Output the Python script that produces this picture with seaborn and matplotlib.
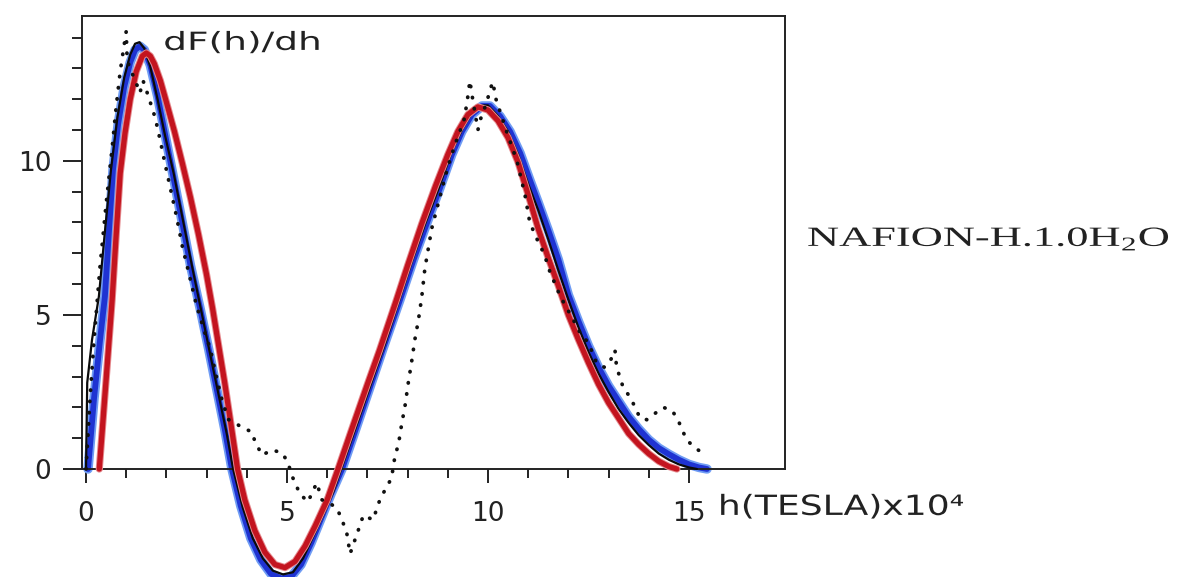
import matplotlib
matplotlib.use("Agg")
import matplotlib.pyplot as plt
import seaborn as sns
from matplotlib.patheffects import AbstractPathEffect
from matplotlib.transforms import Affine2D

# ---- data: field h (x10^4 T) and dF(h)/dh ----------------------------------
# fitted distribution (red)
h_red = [0.33, 0.5, 0.65, 0.75, 0.85, 0.97, 1.1, 1.25, 1.4, 1.5, 1.6, 1.7, 1.85,
         2.0, 2.2, 2.4, 2.6, 2.8, 3.0, 3.15, 3.3, 3.45, 3.6, 3.77, 3.95,
         4.2, 4.45, 4.7, 4.95, 5.2, 5.45, 5.7, 6.0, 6.27, 6.6, 7.0, 7.3, 7.7,
         8.0, 8.35, 8.7, 9.0, 9.25, 9.5, 9.75, 10.0, 10.25, 10.5, 10.75, 11.0,
         11.25, 11.5, 11.75, 12.0, 12.25, 12.5, 12.75, 13.0, 13.25, 13.5, 13.75,
         14.0, 14.25, 14.5, 14.7]
f_red = [0.0, 2.9, 5.5, 7.6, 9.6, 10.9, 12.0, 12.9, 13.4, 13.5, 13.4, 13.15, 12.6,
         11.9, 10.95, 9.9, 8.8, 7.6, 6.3, 5.2, 4.0, 2.8, 1.5, 0.0, -1.0,
         -2.0, -2.7, -3.1, -3.2, -3.0, -2.5, -1.85, -1.0, 0.0, 1.25, 2.75, 3.85, 5.4,
         6.6, 7.95, 9.2, 10.2, 10.95, 11.5, 11.75, 11.65, 11.3, 10.75, 9.95, 8.9,
         7.8, 6.85, 5.95, 5.0, 4.2, 3.45, 2.75, 2.15, 1.65, 1.15, 0.8,
         0.5, 0.25, 0.08, 0.0]

# fitted distribution (blue)
h_blue = [0.05, 0.2, 0.35, 0.47, 0.57, 0.67, 0.8, 0.95, 1.1, 1.22, 1.34, 1.45, 1.6,
          1.78, 1.96, 2.14, 2.35, 2.6, 2.84, 3.05, 3.25, 3.45, 3.63, 3.85, 4.1,
          4.35, 4.6, 4.85, 5.1, 5.35, 5.6, 5.85, 6.1, 6.37, 6.7, 7.05, 7.4, 7.8,
          8.15, 8.5, 8.8, 9.1, 9.35, 9.6, 9.85, 10.05, 10.3, 10.55, 10.8, 11.05,
          11.25, 11.5, 11.75, 12.0, 12.25, 12.5, 12.75, 13.0, 13.25, 13.5, 13.75,
          14.0, 14.25, 14.5, 14.75, 15.0, 15.25, 15.45]
f_blue = [0.0, 2.3, 4.2, 5.6, 7.7, 9.7, 11.2, 12.4, 13.2, 13.6, 13.72, 13.6, 13.1,
          12.1, 10.9, 9.7, 8.3, 6.6, 5.2, 3.9, 2.6, 1.3, 0.0, -1.2, -2.25,
          -2.95, -3.4, -3.55, -3.5, -3.1, -2.4, -1.6, -0.8, 0.0, 1.25, 2.6, 3.95, 5.45,
          6.8, 8.05, 9.1, 10.2, 10.95, 11.5, 11.78, 11.78, 11.45, 10.95, 10.25, 9.35,
          8.65, 7.75, 6.8, 5.65, 4.8, 4.0, 3.3, 2.7, 2.2, 1.7, 1.3,
          0.95, 0.68, 0.48, 0.3, 0.15, 0.05, 0.0]

# model curve (black, solid)
h_fit = [0.0, 0.03, 0.15, 0.32, 0.47, 0.62, 0.78, 0.95, 1.1, 1.22, 1.33, 1.45, 1.6,
         1.78, 1.97, 2.18, 2.4, 2.65, 2.88, 3.1, 3.3, 3.5, 3.66, 3.9, 4.15, 4.4,
         4.65, 4.9, 5.15, 5.4, 5.65, 5.9, 6.15, 6.35, 6.7, 7.1, 7.45, 7.8, 8.1,
         8.45, 8.8, 9.1, 9.35, 9.6, 9.85, 10.0, 10.25, 10.5, 10.75, 11.0, 11.25,
         11.5, 11.75, 12.0, 12.25, 12.5, 12.75, 13.0, 13.25, 13.5, 13.75, 14.0,
         14.25, 14.5, 14.75, 15.0, 15.2]
f_fit = [0.0, 2.8, 4.2, 5.6, 7.7, 9.7, 11.4, 12.7, 13.45, 13.8, 13.85, 13.65, 13.05,
         12.0, 10.8, 9.6, 8.15, 6.5, 5.05, 3.65, 2.4, 1.15, 0.0, -1.25, -2.25, -2.9,
         -3.3, -3.42, -3.35, -2.9, -2.2, -1.5, -0.75, 0.0, 1.3, 2.8, 4.1, 5.5, 6.7,
         8.0, 9.2, 10.3, 11.0, 11.55, 11.8, 11.8, 11.45, 10.95, 10.2, 9.25, 8.4,
         7.45, 6.45, 5.5, 4.6, 3.8, 3.1, 2.5, 1.95, 1.5, 1.1, 0.78,
         0.5, 0.3, 0.15, 0.05, 0.0]

# measured derivative (black, dotted)
h_exp = [0.0, 0.1, 0.2, 0.35, 0.5, 0.64, 0.75, 0.85, 0.93, 1.0, 1.02, 1.08, 1.2,
         1.34, 1.42, 1.55, 1.72, 1.84, 1.95, 2.1, 2.25, 2.4, 2.55, 2.75, 2.95, 3.1,
         3.26, 3.4, 3.55, 3.7, 3.88, 4.13, 4.2, 4.38, 4.63, 4.88, 5.03, 5.1, 5.2,
         5.32, 5.52, 5.74, 5.87, 6.05, 6.24, 6.37, 6.49, 6.57, 6.77, 6.9, 7.14,
         7.31, 7.45, 7.6, 7.69, 7.77, 7.85, 7.94, 8.02, 8.1, 8.18, 8.27, 8.35,
         8.43, 8.6, 8.8, 9.0, 9.2, 9.4, 9.48, 9.55, 9.62, 9.75, 9.8, 9.97, 10.05,
         10.12, 10.2, 10.45, 10.72, 10.92, 11.04, 11.25, 11.37, 11.47, 11.54, 11.8,
         12.1, 12.3, 12.5, 12.7, 12.9, 13.04, 13.16, 13.2, 13.28, 13.36, 13.53,
         13.66, 13.78, 13.95, 14.1, 14.36, 14.58, 14.73, 14.83, 14.95, 15.15, 15.35]
f_exp = [0.0, 2.3, 4.2, 6.6, 8.6, 10.3, 11.75, 12.9, 13.6, 14.2, 13.4, 13.0, 12.7,
         12.2, 12.6, 12.1, 11.4, 10.7, 10.0, 9.1, 8.2, 7.2, 6.4, 5.3, 4.45, 3.85,
         2.9, 2.15, 1.6, 1.5, 1.35, 1.2, 0.9, 0.45, 0.62, 0.52, 0.2, -0.15, -0.45,
         -0.8, -1.07, -0.45, -1.0, -1.1, -1.27, -1.65, -2.1, -2.75, -2.0, -1.5, -1.65,
         -1.0, -0.65, -0.3, 0.45, 0.78, 1.43, 2.08, 2.82, 3.47, 4.19, 4.84, 5.55,
         6.5, 7.8, 8.8, 9.8, 10.6, 11.3, 11.9, 12.6, 12.0, 11.0, 11.3, 11.9, 12.3,
         12.56, 12.0, 11.0, 10.0, 8.9, 8.0, 7.37, 7.05, 6.7, 6.4, 5.6,
         4.9, 4.4, 4.09, 3.44, 3.3, 3.5, 3.86, 3.3, 2.99, 2.66, 2.34,
         2.01, 1.66, 1.6, 1.75, 2.0, 1.9, 1.59, 1.27, 0.94, 0.68, 0.52]

x_major = [0, 5, 10, 15]
x_minor = [1, 2, 3, 4, 6, 7, 8, 9, 11, 12, 13, 14]
y_major = [0, 5, 10]
y_minor = [1, 2, 3, 4, 6, 7, 8, 9, 11, 12, 13, 14]

title_text = "dF(h)/dh"
xlabel_text = "h(TESLA)x10\u2074"
sample_text = r"NAFION-H.1.0H$_{\mathregular{2}}$O"


class Widen(AbstractPathEffect):
    """Draw text glyphs stretched horizontally about their left edge."""

    def __init__(self, factor):
        super().__init__()
        self.factor = factor

    def draw_path(self, renderer, gc, tpath, affine, rgbFace=None):
        renderer.draw_path(gc, tpath, Affine2D().scale(self.factor, 1.0) + affine,
                           rgbFace)


sns.set_style("ticks")
plt.rcParams["font.family"] = ["DejaVu Sans"]

W, H = 1183, 577
fig = plt.figure(figsize=(W / 100, H / 100), dpi=100)
fig.patch.set_facecolor("white")
ax = fig.add_axes([82 / W, 1 - 469 / H, 703 / W, 453 / H])
ax.set_facecolor("white")
ax.set_xlim(-0.1, 17.39)
ax.set_ylim(0, 14.7)

common = dict(ax=ax, sort=False, estimator=None, clip_on=False,
              solid_capstyle="round", solid_joinstyle="round")

# blue curve with its lighter rim
sns.lineplot(x=h_blue, y=f_blue, color="#6f9cf4", linewidth=6.8, zorder=2, **common)
sns.lineplot(x=h_blue, y=f_blue, color="#1f33d2", linewidth=4.2, zorder=2.1, **common)
# solid black model
sns.lineplot(x=h_fit, y=f_fit, color="#0a0a0a", linewidth=1.6, zorder=3, **common)
# red curve with soft rim
sns.lineplot(x=h_red, y=f_red, color="#e58a8e", linewidth=5.2, zorder=4, **common)
sns.lineplot(x=h_red, y=f_red, color="#c3141f", linewidth=3.8, zorder=4.1, **common)
# dotted measured derivative
sns.lineplot(x=h_exp, y=f_exp, ax=ax, sort=False, estimator=None, clip_on=False,
             color="#111111", linewidth=2.7, linestyle=(0, (0.1, 2.9)),
             dash_capstyle="round", zorder=5)

for side in ["left", "right", "top", "bottom"]:
    ax.spines[side].set_visible(True)
    ax.spines[side].set_linewidth(1.4)
    ax.spines[side].set_color("#222222")

ax.set_xticks(x_major)
ax.set_xticklabels([str(v) for v in x_major])
ax.set_xticks(x_minor, minor=True)
ax.set_yticks(y_major)
ax.set_yticklabels([str(v) for v in y_major])
ax.set_yticks(y_minor, minor=True)
ax.tick_params(axis="x", which="major", direction="out", length=10, width=1.4,
               pad=13, labelsize=19, color="#222222", labelcolor="#222222")
ax.tick_params(axis="x", which="minor", direction="out", length=6.5, width=1.4,
               color="#222222")
ax.tick_params(axis="y", which="major", direction="out", length=14, width=1.4,
               pad=8, labelsize=19, color="#222222", labelcolor="#222222")
ax.tick_params(axis="y", which="minor", direction="out", length=7, width=1.4,
               color="#222222")
ax.set_xlabel("")
ax.set_ylabel("")

ax.text(1.92, 13.6, title_text, ha="left", va="baseline", fontsize=18,
        color="#222222", path_effects=[Widen(1.5)])
ax.text(15.72, -1.49, xlabel_text, ha="left", va="baseline", fontsize=20,
        color="#222222", clip_on=False, path_effects=[Widen(1.3)])
fig.text(807 / W, 1 - 246 / H, sample_text, ha="left", va="baseline", fontsize=20,
         family=["Liberation Serif", "DejaVu Serif"], color="#222222",
         path_effects=[Widen(1.6)])

fig.savefig("out.png", dpi=100, facecolor="white")
